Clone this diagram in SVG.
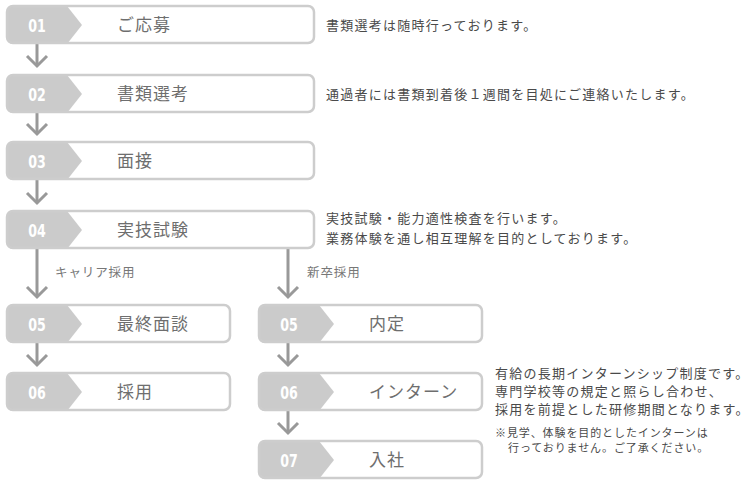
<svg xmlns="http://www.w3.org/2000/svg" width="756" height="500" viewBox="0 0 756 500">
<defs>
<style>
.box{fill:none;stroke:#cdcdcd;stroke-width:2.5}
.tab{fill:#cbcbcb}
.num{font-family:"DejaVu Sans Condensed","DejaVu Sans",sans-serif;font-weight:bold;font-size:18px;fill:#fff;text-anchor:middle}
.lbl{font-family:"Noto Sans CJK JP",sans-serif;font-size:17px;fill:#6e6e6e;letter-spacing:1px}
.desc{font-family:"Noto Sans CJK JP",sans-serif;font-size:13px;fill:#4a4a4a;letter-spacing:1.25px}
.note{font-family:"Noto Sans CJK JP",sans-serif;font-size:11px;fill:#4a4a4a;letter-spacing:0.9px}
.route{font-family:"Noto Sans CJK JP",sans-serif;font-size:12.5px;fill:#777;letter-spacing:0.9px}
.arr{stroke:#999;stroke-width:3;fill:none;marker-end:url(#head)}
</style>
<marker id="head" viewBox="-12 -12 24 24" refX="0" refY="0" markerWidth="24" markerHeight="24" markerUnits="userSpaceOnUse" orient="auto" overflow="visible">
<path d="M-10,-10 L0,0 L-10,10" fill="none" stroke="#999" stroke-width="3"/>
</marker>
<path id="tabL" d="M6,0 H60 L75,19 L60,38 H6 A6,6 0 0 1 0,32 V6 A6,6 0 0 1 6,0 Z"/>
</defs>

<g id="connectors">
<line class="arr" x1="37" y1="44" x2="37" y2="66"/>
<line class="arr" x1="37" y1="113" x2="37" y2="134"/>
<line class="arr" x1="37" y1="180" x2="37" y2="203"/>
<line class="arr" x1="37" y1="248" x2="37" y2="297"/>
<line class="arr" x1="288" y1="248" x2="288" y2="297"/>
<line class="arr" x1="37" y1="342" x2="37" y2="365"/>
<line class="arr" x1="288" y1="342" x2="288" y2="365"/>
<line class="arr" x1="288" y1="410" x2="288" y2="433"/>
<text class="route" x="55" y="277">キャリア採用</text>
<text class="route" x="307" y="277">新卒採用</text>
</g>

<g id="n01" transform="translate(7,6)">
<use href="#tabL" class="tab"/><rect class="box" x="0" y="0" width="307" height="37" rx="6"/>
<text class="num" transform="translate(30,25.5) scale(0.78,1)">01</text><text class="lbl" x="110" y="25">ご応募</text>
</g>
<g id="n02" transform="translate(7,75)">
<use href="#tabL" class="tab"/><rect class="box" x="0" y="0" width="307" height="37" rx="6"/>
<text class="num" transform="translate(30,25.5) scale(0.78,1)">02</text><text class="lbl" x="110" y="25">書類選考</text>
</g>
<g id="n03" transform="translate(7,142)">
<use href="#tabL" class="tab"/><rect class="box" x="0" y="0" width="307" height="37" rx="6"/>
<text class="num" transform="translate(30,25.5) scale(0.78,1)">03</text><text class="lbl" x="110" y="25">面接</text>
</g>
<g id="n04" transform="translate(7,211)">
<use href="#tabL" class="tab"/><rect class="box" x="0" y="0" width="307" height="37" rx="6"/>
<text class="num" transform="translate(30,25.5) scale(0.78,1)">04</text><text class="lbl" x="110" y="25">実技試験</text>
</g>
<g id="n05c" transform="translate(7,305)">
<use href="#tabL" class="tab"/><rect class="box" x="0" y="0" width="223" height="37" rx="6"/>
<text class="num" transform="translate(30,25.5) scale(0.78,1)">05</text><text class="lbl" x="110" y="25">最終面談</text>
</g>
<g id="n06c" transform="translate(7,373)">
<use href="#tabL" class="tab"/><rect class="box" x="0" y="0" width="223" height="37" rx="6"/>
<text class="num" transform="translate(30,25.5) scale(0.78,1)">06</text><text class="lbl" x="110" y="25">採用</text>
</g>
<g id="n05s" transform="translate(259,305)">
<use href="#tabL" class="tab"/><rect class="box" x="0" y="0" width="223" height="37" rx="6"/>
<text class="num" transform="translate(30,25.5) scale(0.78,1)">05</text><text class="lbl" x="110" y="25">内定</text>
</g>
<g id="n06s" transform="translate(259,373)">
<use href="#tabL" class="tab"/><rect class="box" x="0" y="0" width="223" height="37" rx="6"/>
<text class="num" transform="translate(30,25.5) scale(0.78,1)">06</text><text class="lbl" x="110" y="25">インターン</text>
</g>
<g id="n07s" transform="translate(259,441)">
<use href="#tabL" class="tab"/><rect class="box" x="0" y="0" width="223" height="37" rx="6"/>
<text class="num" transform="translate(30,25.5) scale(0.78,1)">07</text><text class="lbl" x="110" y="25">入社</text>
</g>

<g id="descriptions">
<text class="desc" x="326" y="30">書類選考は随時行っております。</text>
<text class="desc" x="326" y="99">通過者には書類到着後１週間を目処にご連絡いたします。</text>
<text class="desc" x="326" y="223">実技試験・能力適性検査を行います。</text>
<text class="desc" x="326" y="243">業務体験を通し相互理解を目的としております。</text>
<text class="desc" x="495" y="378">有給の長期インターンシップ制度です。</text>
<text class="desc" x="495" y="396">専門学校等の規定と照らし合わせ、</text>
<text class="desc" x="495" y="414">採用を前提とした研修期間となります。</text>
<text class="note" x="495" y="437">※見学、体験を目的としたインターンは</text>
<text class="note" x="508" y="452">行っておりません。ご了承ください。</text>
</g>
</svg>
